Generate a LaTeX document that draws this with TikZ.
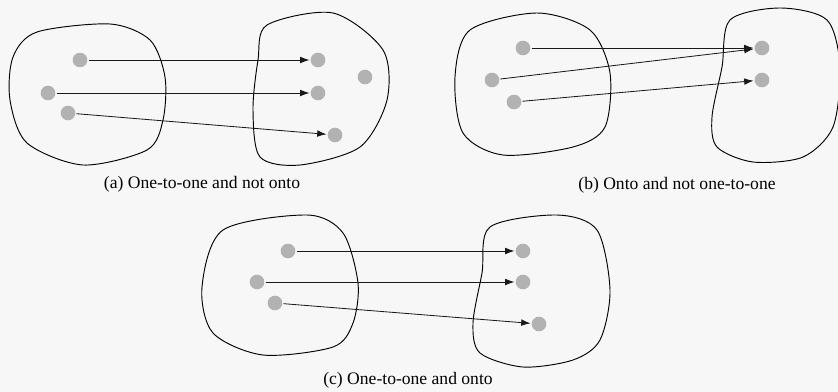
\documentclass[tikz,border=0pt]{standalone}
\usepackage{fontspec}
\setmainfont{Liberation Serif}
\usetikzlibrary{arrows.meta}

\begin{document}
\begin{tikzpicture}[
    x=0.03cm, y=-0.03cm,
    elem/.style={circle, fill=black!30, inner sep=0pt, minimum size=0.44cm, outer sep=1pt},
    blob/.style={draw=black, line width=0.8pt},
    arrow/.style={-{Latex[length=2.8mm,width=2mm]}, line width=0.7pt, draw=black!90},
    caption/.style={font=\fontsize{15}{18}\selectfont}
  ]
    \fill[black!3] (0,0) rectangle (838,392);
    \useasboundingbox (0,0) rectangle (838,392);

    % (a) one-to-one and not onto
    \draw[blob] plot[smooth cycle] coordinates {(37,32) (110,24) (150,40) (165,77) (163,120) (147,150) (83,165) (27,143) (10,100) (13,57)};
    \draw[blob] plot[smooth cycle] coordinates {(267,25) (333,13) (383,50) (387,100) (360,147) (300,165) (260,157) (253,110) (258,60)};
    \node[elem] (xa1) at (80,60) {};
    \node[elem] (xa2) at (48,93) {};
    \node[elem] (xa3) at (68,113) {};
    \node[elem] (ya1) at (318,60) {};
    \node[elem] (ya2) at (318,93) {};
    \node[elem] (ya3) at (335,135) {};
    \node[elem] (ya4) at (365,77) {};
    \draw[arrow] (xa1) -- (ya1);
    \draw[arrow] (xa2) -- (ya2);
    \draw[arrow] (xa3) -- (ya3);
    \node[caption] (capa) at (202,184) {(a) One-to-one and not onto};

    % (b) onto and not one-to-one
    \draw[blob] plot[smooth cycle] coordinates {(470,30) (537,13) (590,30) (610,73) (605,127) (573,147) (503,155) (463,133) (455,77)};
    \draw[blob] plot[smooth cycle] coordinates {(730,20) (780,8) (827,20) (840,67) (833,127) (803,157) (753,162) (717,147) (712,117) (722,67)};
    \node[elem] (xb1) at (523,48) {};
    \node[elem] (xb2) at (492,80) {};
    \node[elem] (xb3) at (514,102) {};
    \node[elem] (yb1) at (762,48) {};
    \node[elem] (yb2) at (762,80) {};
    \draw[arrow] (xb1) -- (yb1);
    \draw[arrow] (xb2) -- (yb1);
    \draw[arrow] (xb3) -- (yb2);
    \node[caption] (capb) at (677,185) {(b) Onto and not one-to-one};

    % (c) one-to-one and onto
    \draw[blob] plot[smooth cycle] coordinates {(223,230) (307,215) (343,233) (358,283) (353,323) (333,347) (263,355) (213,333) (202,287)};
    \draw[blob] plot[smooth cycle] coordinates {(490,227) (557,215) (597,230) (610,290) (600,340) (573,360) (523,367) (480,353) (473,323) (482,273)};
    \node[elem] (xc1) at (288,251) {};
    \node[elem] (xc2) at (257,282) {};
    \node[elem] (xc3) at (275,303) {};
    \node[elem] (yc1) at (523,251) {};
    \node[elem] (yc2) at (523,282) {};
    \node[elem] (yc3) at (539,324) {};
    \draw[arrow] (xc1) -- (yc1);
    \draw[arrow] (xc2) -- (yc2);
    \draw[arrow] (xc3) -- (yc3);
    \node[caption] (capc) at (408,380) {(c) One-to-one and onto};
  \end{tikzpicture}
\end{document}
